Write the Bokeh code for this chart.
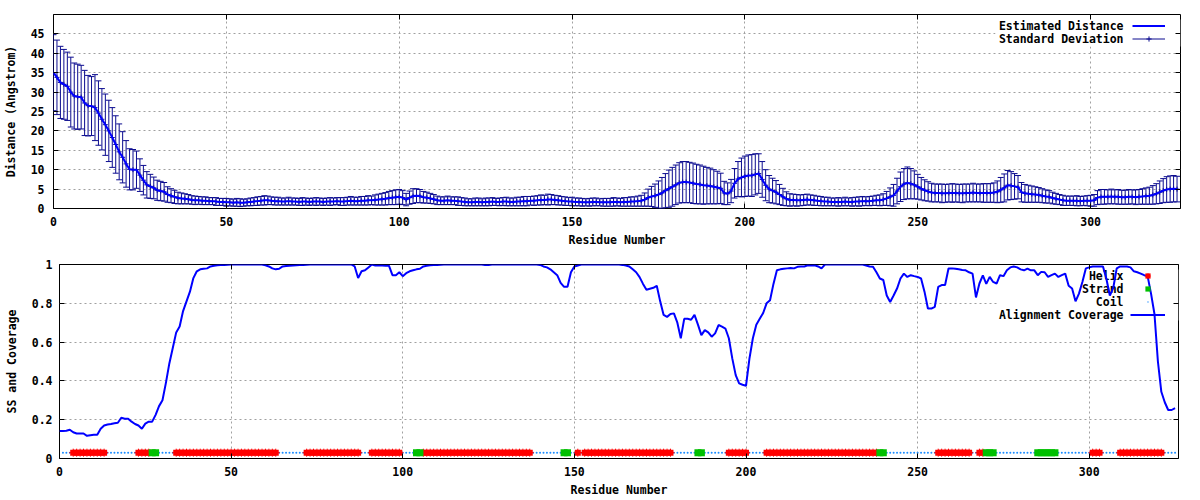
from bokeh.plotting import figure
from bokeh.models import (ColumnDataSource, FixedTicker, LinearAxis, Range1d,
                          Legend, LegendItem, Label, BoxAnnotation, CustomLabelingPolicy)
from bokeh.layouts import column
from bokeh.embed import file_html
from bokeh.resources import INLINE

# ---------------- data ----------------
residues = list(range(326))

est_distance = [
    35.0, 33.8, 32.5, 32.0, 31.5, 30.0, 29.0, 28.8, 28.7, 27.2,
    26.5, 26.4, 26.0, 24.6, 23.0, 21.6, 20.0, 18.3, 16.5, 14.6,
    13.2, 11.5, 10.1, 10.0, 10.0, 8.6, 7.3, 6.1, 5.7, 5.3,
    4.7, 4.5, 4.3, 3.6, 3.3, 3.0, 2.7, 2.6, 2.5, 2.4,
    2.2, 2.1, 2.1, 2.0, 2.0, 1.9, 1.9, 1.8, 1.7, 1.7,
    1.6, 1.6, 1.5, 1.6, 1.5, 1.5, 1.6, 1.7, 1.8, 1.9,
    2.0, 2.1, 2.1, 2.0, 1.9, 1.9, 1.8, 1.8, 1.9, 1.8,
    1.8, 1.7, 1.8, 1.8, 1.7, 1.8, 1.8, 1.8, 1.7, 1.8,
    1.8, 1.8, 1.9, 1.8, 1.8, 1.9, 2.0, 1.9, 1.9, 2.0,
    2.0, 2.1, 2.1, 2.2, 2.3, 2.4, 2.5, 2.7, 2.8, 2.9,
    3.0, 2.8, 2.3, 2.8, 3.2, 3.3, 3.2, 2.9, 2.8, 2.6,
    2.4, 2.1, 2.0, 2.0, 2.1, 2.0, 2.0, 1.9, 1.8, 1.7,
    1.6, 1.6, 1.7, 1.7, 1.6, 1.7, 1.7, 1.8, 1.7, 1.7,
    1.8, 1.8, 1.7, 1.7, 1.8, 1.8, 1.9, 1.9, 2.0, 2.0,
    2.1, 2.2, 2.2, 2.3, 2.3, 2.2, 2.1, 2.0, 1.9, 1.8,
    1.8, 1.7, 1.7, 1.6, 1.6, 1.6, 1.7, 1.7, 1.6, 1.6,
    1.6, 1.6, 1.7, 1.7, 1.6, 1.7, 1.7, 1.8, 1.8, 1.9,
    2.0, 2.3, 2.8, 3.1, 3.3, 3.6, 4.0, 4.6, 5.1, 5.6,
    6.1, 6.6, 6.8, 6.8, 6.7, 6.5, 6.3, 6.2, 6.0, 5.9,
    5.8, 5.6, 5.4, 5.2, 4.0, 3.8, 4.5, 6.5, 7.6, 8.0,
    8.3, 8.5, 8.5, 8.8, 9.0, 7.5, 6.0, 5.0, 4.6, 4.2,
    3.6, 3.0, 2.5, 2.2, 2.2, 2.1, 2.1, 2.2, 2.3, 2.2,
    2.1, 2.0, 1.9, 1.8, 1.8, 1.7, 1.7, 1.7, 1.7, 1.8,
    1.7, 1.7, 1.8, 1.8, 1.9, 1.9, 1.9, 2.0, 2.1, 2.1,
    2.3, 2.6, 3.0, 3.4, 4.5, 5.6, 6.3, 6.6, 6.4, 6.1,
    5.6, 5.1, 4.7, 4.4, 4.1, 4.0, 4.0, 3.9, 3.9, 4.0,
    4.0, 4.0, 3.9, 3.9, 4.0, 4.0, 4.1, 4.0, 4.0, 4.0,
    4.0, 4.0, 4.1, 4.3, 4.8, 5.3, 6.0, 5.9, 5.7, 5.5,
    4.2, 3.9, 3.8, 3.7, 3.6, 3.5, 3.3, 3.1, 3.0, 2.7,
    2.5, 2.3, 2.1, 2.0, 2.0, 2.0, 2.0, 1.9, 2.0, 2.0,
    2.0, 2.1, 2.8, 3.0, 3.0, 3.0, 3.1, 3.0, 3.0, 2.9,
    2.9, 3.0, 3.0, 2.9, 3.0, 3.1, 3.2, 3.3, 3.5, 3.8,
    4.2, 4.6, 4.9, 5.0, 5.1, 5.0,
]

std_dev = [
    9.8, 9.6, 9.3, 9.0, 8.8, 9.0, 8.5, 8.4, 8.2, 8.4,
    7.8, 7.6, 8.5, 8.3, 7.9, 7.9, 7.9, 7.7, 7.4, 7.2,
    6.6, 6.0, 5.3, 5.2, 4.8, 4.2, 3.8, 3.4, 3.1, 2.8,
    2.6, 2.5, 2.4, 2.0, 1.8, 1.7, 1.5, 1.4, 1.3, 1.2,
    1.1, 1.1, 1.0, 1.0, 1.0, 0.9, 0.9, 1.0, 0.9, 0.9,
    1.0, 0.9, 0.9, 1.0, 1.0, 0.9, 0.9, 1.0, 1.0, 1.1,
    1.1, 1.2, 1.1, 1.0, 1.0, 1.0, 0.9, 0.9, 1.0, 0.9,
    0.9, 0.9, 1.0, 0.9, 0.9, 0.9, 1.0, 0.9, 0.9, 0.9,
    1.0, 0.9, 0.9, 1.0, 1.0, 1.0, 1.1, 1.0, 1.0, 1.1,
    1.1, 1.2, 1.1, 1.3, 1.4, 1.5, 1.6, 1.7, 1.8, 1.9,
    1.9, 1.8, 1.6, 1.7, 1.9, 1.8, 1.7, 1.5, 1.4, 1.3,
    1.2, 1.1, 1.0, 1.0, 1.1, 1.0, 1.0, 1.1, 1.0, 1.0,
    0.9, 0.9, 1.0, 1.0, 0.9, 1.0, 1.0, 1.0, 0.9, 1.0,
    1.0, 1.1, 1.0, 1.0, 1.1, 1.1, 1.2, 1.2, 1.1, 1.2,
    1.2, 1.3, 1.2, 1.4, 1.3, 1.2, 1.2, 1.1, 1.1, 1.0,
    1.1, 1.0, 1.0, 1.0, 0.9, 1.0, 1.0, 1.0, 0.9, 1.0,
    1.0, 1.0, 1.1, 1.0, 1.0, 1.1, 1.1, 1.2, 1.2, 1.3,
    1.4, 1.7, 2.2, 2.6, 3.0, 3.5, 4.0, 4.4, 4.8, 5.0,
    5.1, 5.2, 5.3, 5.3, 5.2, 5.2, 5.1, 5.0, 4.9, 4.7,
    4.6, 4.4, 4.2, 3.9, 3.0, 2.8, 3.0, 3.8, 4.5, 5.0,
    5.2, 5.3, 5.4, 5.3, 5.1, 4.6, 4.0, 3.5, 3.2, 3.0,
    2.6, 2.2, 1.8, 1.6, 1.5, 1.5, 1.4, 1.4, 1.4, 1.3,
    1.3, 1.2, 1.2, 1.1, 1.1, 1.0, 1.0, 1.1, 1.0, 1.1,
    1.0, 1.1, 1.1, 1.2, 1.2, 1.1, 1.2, 1.2, 1.3, 1.4,
    1.5, 1.8, 2.3, 2.8, 3.3, 3.8, 4.0, 4.1, 3.9, 3.6,
    3.2, 2.9, 2.7, 2.5, 2.4, 2.3, 2.3, 2.4, 2.3, 2.3,
    2.4, 2.3, 2.3, 2.4, 2.3, 2.3, 2.4, 2.3, 2.3, 2.4,
    2.4, 2.4, 2.5, 2.8, 3.2, 3.6, 3.8, 3.6, 3.3, 3.0,
    2.5, 2.3, 2.2, 2.1, 2.0, 1.9, 1.8, 1.7, 1.6, 1.5,
    1.4, 1.3, 1.3, 1.2, 1.2, 1.2, 1.3, 1.2, 1.2, 1.3,
    1.4, 1.5, 1.8, 1.9, 1.9, 1.8, 1.9, 1.8, 1.9, 1.8,
    1.8, 1.9, 1.8, 1.9, 1.9, 2.0, 2.1, 2.2, 2.4, 2.6,
    2.9, 3.1, 3.3, 3.4, 3.4, 3.3,
]

coverage = [
    0.142, 0.142, 0.143, 0.148, 0.135, 0.129, 0.129, 0.129, 0.117, 0.120,
    0.122, 0.122, 0.153, 0.170, 0.175, 0.178, 0.182, 0.184, 0.210, 0.205,
    0.205, 0.190, 0.178, 0.170, 0.153, 0.180, 0.190, 0.190, 0.225, 0.270,
    0.300, 0.390, 0.490, 0.570, 0.650, 0.680, 0.760, 0.810, 0.860, 0.930,
    0.965, 0.975, 0.978, 0.980, 0.990, 0.993, 0.996, 0.997, 0.998, 0.999,
    1.0, 1.0, 1.0, 1.0, 1.0, 1.0, 1.0, 1.0, 1.0, 1.0,
    0.996, 0.990, 0.980, 0.975, 0.978, 0.990, 0.992, 0.994, 0.995, 0.996,
    0.997, 0.998, 0.999, 1.0, 1.0, 1.0, 1.0, 1.0, 1.0, 1.0,
    1.0, 1.0, 1.0, 1.0, 1.0, 1.0, 0.990, 0.930, 0.965, 0.970,
    0.985, 1.0, 0.995, 0.995, 0.995, 0.994, 0.993, 0.945, 0.945, 0.960,
    0.940, 0.955, 0.965, 0.970, 0.975, 0.978, 0.990, 0.994, 0.996, 0.997,
    0.998, 0.999, 1.0, 1.0, 1.0, 1.0, 1.0, 1.0, 1.0, 1.0,
    1.0, 1.0, 1.0, 1.0, 0.997, 0.998, 1.0, 1.0, 1.0, 1.0,
    1.0, 1.0, 1.0, 1.0, 1.0, 1.0, 1.0, 1.0, 1.0, 1.0,
    0.998, 0.990, 0.985, 0.975, 0.960, 0.945, 0.905, 0.885, 0.885, 0.960,
    0.990, 0.995, 1.0, 1.0, 1.0, 1.0, 1.0, 1.0, 1.0, 1.0,
    1.0, 1.0, 1.0, 1.0, 0.998, 0.995, 0.990, 0.975, 0.960, 0.935,
    0.900, 0.870, 0.875, 0.880, 0.890, 0.810, 0.740, 0.730, 0.745, 0.748,
    0.700, 0.620, 0.720, 0.720, 0.715, 0.740, 0.690, 0.636, 0.662, 0.650,
    0.628, 0.645, 0.688, 0.680, 0.670, 0.620, 0.516, 0.430, 0.387, 0.380,
    0.375, 0.515, 0.620, 0.690, 0.720, 0.750, 0.800, 0.816, 0.900, 0.970,
    0.975, 0.978, 0.980, 0.982, 0.980, 0.988, 0.990, 0.990, 0.996, 0.995,
    0.996, 0.990, 0.980, 1.0, 1.0, 1.0, 1.0, 1.0, 1.0, 1.0,
    1.0, 1.0, 1.0, 1.0, 1.0, 0.995, 0.990, 0.988, 0.960, 0.928,
    0.920, 0.840, 0.807, 0.840, 0.876, 0.928, 0.953, 0.936, 0.945, 0.940,
    0.936, 0.928, 0.860, 0.773, 0.773, 0.782, 0.885, 0.894, 0.894, 0.979,
    0.980, 0.978, 0.975, 0.972, 0.970, 0.960, 0.953, 0.830, 0.902, 0.944,
    0.900, 0.936, 0.910, 0.902, 0.945, 0.940, 0.970, 0.985, 0.990, 0.985,
    0.975, 0.970, 0.979, 0.970, 0.970, 0.945, 0.962, 0.960, 0.936, 0.945,
    0.953, 0.936, 0.945, 0.953, 0.890, 0.876, 0.810, 0.850, 0.910, 0.980,
    0.985, 0.990, 0.990, 0.990, 0.990, 0.925, 0.840, 0.880, 0.980, 0.990,
    0.990, 0.990, 0.985, 0.965, 0.960, 0.953, 0.945, 0.940, 0.850, 0.745,
    0.500, 0.344, 0.290, 0.250, 0.250, 0.260,
]

helix_start = [4, 23, 34, 72, 91, 106, 151, 153, 195, 206, 256, 268, 301, 309]
helix_end = [13, 26, 63, 87, 99, 137, 151, 178, 200, 238, 265, 269, 303, 321]
strand_start = [27, 104, 147, 186, 239, 270, 285]
strand_end = [28, 105, 148, 187, 240, 272, 290]
ss_level = 0.03

x_ticks = [0, 50, 100, 150, 200, 250, 300]
dist_ticks = [0, 5, 10, 15, 20, 25, 30, 35, 40, 45]
cov_ticks = [0, 0.2, 0.4, 0.6, 0.8, 1]
cov_tick_labels = ["0", "0.2", "0.4", "0.6", "0.8", "1"]

# ---------------- style ----------------
FONT = "DejaVu Sans Mono"
FS = "11.5px"
BLUE = "#0000ff"
NAVY = "#0b0b8f"
RED = "#ff0000"
GREEN = "#00c000"
COIL = "#1a8cff"
GRID = "#a0a0a0"

W = 1200
H1, H2 = 250, 250
L1, R1, L2, R2 = 53, 20, 59, 22
TOP, BOT = 14, 42
F1_W, F1_H = W - L1 - R1, H1 - TOP - BOT
F2_W, F2_H = W - L2 - R2, H2 - TOP - BOT


def style(p, xticks, yticks, y_standoff, ylabel_standoff, overrides=None):
    p.frame_align = False
    p.background_fill_color = "white"
    p.border_fill_color = "white"
    p.outline_line_color = "black"
    p.outline_line_width = 1
    p.outline_line_alpha = 1
    for ax, ticks in ((p.xaxis[0], xticks), (p.yaxis[0], yticks)):
        ax.ticker = FixedTicker(ticks=ticks)
        ax.axis_line_color = None
        ax.major_tick_in = 5
        ax.major_tick_out = 0
        ax.major_tick_line_color = "black"
        ax.minor_tick_line_color = None
        ax.major_label_text_font = FONT
        ax.major_label_text_font_style = "bold"
        ax.major_label_text_font_size = FS
        ax.major_label_text_color = "black"
        ax.axis_label_text_font = FONT
        ax.axis_label_text_font_style = "bold"
        ax.axis_label_text_font_size = FS
        ax.axis_label_text_color = "black"
    p.xaxis[0].major_label_standoff = 8
    p.xaxis[0].axis_label_standoff = 4
    p.yaxis[0].major_label_standoff = y_standoff
    p.yaxis[0].axis_label_standoff = ylabel_standoff
    if overrides:
        p.yaxis[0].major_label_overrides = overrides
    p.xgrid[0].ticker = FixedTicker(ticks=xticks)
    p.ygrid[0].ticker = FixedTicker(ticks=yticks)
    for g in (p.xgrid[0], p.ygrid[0]):
        g.grid_line_color = GRID
        g.grid_line_dash = "2 3"
        g.grid_line_width = 1
    # mirrored tick marks on the top and right borders (no labels)
    for place, ticks in (("above", xticks), ("right", yticks)):
        m = LinearAxis(ticker=FixedTicker(ticks=ticks), axis_line_color=None,
                       major_tick_in=5, major_tick_out=0, minor_tick_line_color=None,
                       major_tick_line_color="black",
                       major_label_text_font_size="1px", major_label_standoff=0,
                       major_label_policy=CustomLabelingPolicy(code="return []"))
        p.add_layout(m, place)


def key_text(p, texts, x, ys):
    for t, y in zip(texts, ys):
        p.add_layout(Label(x=x, y=y, x_units="screen", y_units="screen", text=t,
                           text_align="right", text_baseline="middle",
                           text_font=FONT, text_font_style="bold",
                           text_font_size=FS, text_color="black", level="underlay"))


# ---------------- top panel ----------------
p1 = figure(width=W, height=H1, x_range=Range1d(0, 326), y_range=Range1d(0, 50),
            output_backend="svg", toolbar_location=None,
            min_border_left=L1, min_border_right=R1, min_border_top=TOP, min_border_bottom=BOT,
            x_axis_label="Residue Number", y_axis_label="Distance (Angstrom)")
style(p1, x_ticks, dist_ticks, 9, 10)

p1.add_layout(BoxAnnotation(left=942, right=F1_W, top=F1_H - 5, bottom=F1_H - 32,
                            left_units="screen", right_units="screen",
                            top_units="screen", bottom_units="screen",
                            fill_color="white", fill_alpha=1, line_color=None,
                            level="underlay"))

dist_src = ColumnDataSource(dict(
    x=residues, mean=est_distance,
    lo=[m - s for m, s in zip(est_distance, std_dev)],
    hi=[m + s for m, s in zip(est_distance, std_dev)],
))
r_bar = p1.segment(x0="x", y0="lo", x1="x", y1="hi", source=dist_src,
                   line_color=NAVY, line_width=1)
p1.scatter(x="x", y="lo", marker="dash", size=6, line_color=NAVY, source=dist_src)
p1.scatter(x="x", y="hi", marker="dash", size=6, line_color=NAVY, source=dist_src)
r_pt = p1.scatter(x="x", y="mean", marker="cross", size=5, line_color=NAVY, source=dist_src)
r_mean = p1.line(x="x", y="mean", line_color=BLUE, line_width=2, source=dist_src)

names1 = ["Estimated Distance", "Standard Deviation"]
leg1 = Legend(items=[LegendItem(label="", renderers=[r_mean]),
                     LegendItem(label="", renderers=[r_bar, r_pt])],
              location="top_right", margin=5, padding=0, spacing=0,
              glyph_width=33, glyph_height=13, label_width=10, label_height=13,
              label_standoff=0, label_text_font_size="1px",
              border_line_color=None, background_fill_alpha=0)
p1.add_layout(leg1)
key_text(p1, names1, F1_W - 57, [F1_H - 11.5, F1_H - 24.5])

# ---------------- bottom panel ----------------
p2 = figure(width=W, height=H2, x_range=Range1d(0, 326), y_range=Range1d(0, 1),
            output_backend="svg", toolbar_location=None,
            min_border_left=L2, min_border_right=R2, min_border_top=TOP, min_border_bottom=BOT,
            x_axis_label="Residue Number", y_axis_label="SS and Coverage")
style(p2, x_ticks, cov_ticks, 7, 10, dict(zip(cov_ticks, cov_tick_labels)))

p2.add_layout(BoxAnnotation(left=939, right=F2_W, top=F2_H - 5, bottom=F2_H - 56,
                            left_units="screen", right_units="screen",
                            top_units="screen", bottom_units="screen",
                            fill_color="white", fill_alpha=1, line_color=None,
                            level="underlay"))

helix_res = [r for a, b in zip(helix_start, helix_end) for r in range(a, b + 1)]
strand_res = [r for a, b in zip(strand_start, strand_end) for r in range(a, b + 1)]
taken = set(helix_res) | set(strand_res)
coil_res = [r for r in residues[1:] if r not in taken]

coil_src = ColumnDataSource(dict(x=coil_res, y=[ss_level] * len(coil_res)))
helix_src = ColumnDataSource(dict(x=helix_res, y=[ss_level] * len(helix_res)))
strand_src = ColumnDataSource(dict(x=strand_res, y=[ss_level] * len(strand_res)))

r_coil = p2.scatter(x="x", y="y", marker="dot", size=8, line_color=COIL, fill_color=COIL,
                    source=coil_src)
r_hel = p2.scatter(x="x", y="y", marker="square", size=6, line_color=None, fill_color=RED,
                   source=helix_src)
r_hel2 = p2.scatter(x="x", y="y", marker="cross", size=8, line_color=RED, line_width=1,
                    source=helix_src)
r_str = p2.scatter(x="x", y="y", marker="square", size=7, line_color=None, fill_color=GREEN,
                   source=strand_src)
r_cov = p2.line(residues, coverage, line_color=BLUE, line_width=2)

names2 = ["Helix", "Strand", "Coil", "Alignment Coverage"]
leg2 = Legend(items=[LegendItem(label="", renderers=[r_hel, r_hel2]),
                     LegendItem(label="", renderers=[r_str]),
                     LegendItem(label="", renderers=[r_coil]),
                     LegendItem(label="", renderers=[r_cov])],
              location="top_right", margin=5, padding=0, spacing=0,
              glyph_width=35, glyph_height=13, label_width=8, label_height=13,
              label_standoff=0, label_text_font_size="1px",
              border_line_color=None, background_fill_alpha=0)
p2.add_layout(leg2)
key_text(p2, names2, F2_W - 55, [F2_H - 11.5, F2_H - 24.5, F2_H - 37.5, F2_H - 50.5])

layout = column(p1, p2, spacing=0)
open("out.html", "w").write(file_html(layout, INLINE))
